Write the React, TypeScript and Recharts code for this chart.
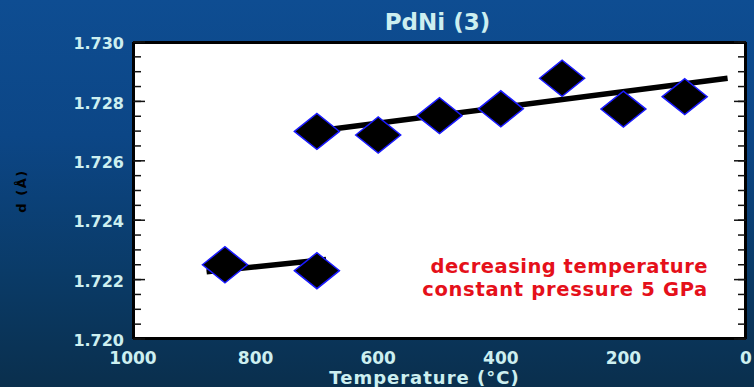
import React from 'react';
import {
  ComposedChart,
  XAxis,
  YAxis,
  Scatter,
  Line,
  CartesianGrid,
  ReferenceDot,
} from 'recharts';

// Measured lattice spacing d (Å) against temperature (°C), decreasing temperature at 5 GPa
const highTempC = [850, 700];
const highTempD = [1.7225, 1.7223];
const lowTempC = [700, 600, 500, 400, 300, 200, 100];
const lowTempD = [1.72699, 1.72687, 1.72752, 1.72775, 1.72878, 1.72774, 1.72816];

// Linear fits through each branch (end points)
const highFitC = [880, 685];
const highFitD = [1.72226, 1.72268];
const lowFitC = [700, 30];
const lowFitD = [1.727, 1.72878];

// Axis ticks
const xMajorTicks = [1000, 800, 600, 400, 200, 0];
const xMinorTicks = [
  1000, 950, 900, 850, 800, 750, 700, 650, 600, 550, 500, 450, 400, 350, 300, 250, 200, 150, 100,
  50, 0,
];
const yMajorTicks = [1.72, 1.722, 1.724, 1.726, 1.728, 1.73];
const yMinorTicks = [
  1.72, 1.7205, 1.721, 1.7215, 1.722, 1.7225, 1.723, 1.7235, 1.724, 1.7245, 1.725, 1.7255, 1.726,
  1.7265, 1.727, 1.7275, 1.728, 1.7285, 1.729, 1.7295, 1.73,
];

const toPoints = (t: number[], d: number[]) => t.map((v, i) => ({ t: v, d: d[i] }));
const highTempData = toPoints(highTempC, highTempD);
const lowTempData = toPoints(lowTempC, lowTempD);
const highFitData = toPoints(highFitC, highFitD);
const lowFitData = toPoints(lowFitC, lowFitD);

const FONT = '"DejaVu Sans", Verdana, sans-serif';
const LABEL_COLOR = '#cdeff0';
const X_DOMAIN: [number, number] = [0, 1000];
const Y_DOMAIN: [number, number] = [1.72, 1.73];

const Diamond = (props: any) => {
  const { cx, cy } = props;
  if (cx == null || cy == null) return null;
  const hw = 22.5;
  const hh = 18;
  return (
    <polygon
      points={`${cx - hw},${cy} ${cx},${cy - hh} ${cx + hw},${cy} ${cx},${cy + hh}`}
      fill="#000"
      stroke="#1a1aff"
      strokeWidth={1.5}
    />
  );
};

// Frame ticks carry no text of their own
const NoLabel = () => <g />;

const frameLine = { stroke: '#000', strokeWidth: 2 };
const tickLineStyle = { stroke: '#111', strokeWidth: 1.5 };

const xFrameAxis = (id: string, orientation: 'top' | 'bottom', ticks: number[], size: number) => (
  <XAxis
    key={id}
    xAxisId={id}
    orientation={orientation}
    mirror
    type="number"
    domain={X_DOMAIN}
    reversed
    allowDataOverflow
    ticks={ticks}
    interval={0}
    tick={NoLabel}
    tickSize={size}
    height={1}
    axisLine={frameLine}
    tickLine={tickLineStyle}
  />
);

const yFrameAxis = (id: string, orientation: 'left' | 'right', ticks: number[], size: number) => (
  <YAxis
    key={id}
    yAxisId={id}
    orientation={orientation}
    mirror
    type="number"
    domain={Y_DOMAIN}
    allowDataOverflow
    ticks={ticks}
    interval={0}
    tick={NoLabel}
    tickSize={size}
    width={1}
    axisLine={frameLine}
    tickLine={tickLineStyle}
  />
);

const AnnotationLabel = (props: any) => {
  const { viewBox } = props;
  if (!viewBox) return null;
  const x = viewBox.x + (viewBox.width || 0) / 2;
  const y = viewBox.y + (viewBox.height || 0) / 2;
  return (
    <g fontFamily={FONT} fontWeight="bold" fontSize={19.5} fill="#e5101a" textAnchor="end">
      <text x={x} y={y} letterSpacing={0.5}>
        decreasing temperature
      </text>
      <text x={x} y={y + 23} letterSpacing={0.7}>
        constant pressure 5 GPa
      </text>
    </g>
  );
};

const XTitle = (props: any) => {
  const { viewBox } = props;
  if (!viewBox) return null;
  return (
    <text
      x={viewBox.x + viewBox.width / 2 - 15}
      y={viewBox.y + 45}
      textAnchor="middle"
      fontFamily={FONT}
      fontWeight="bold"
      fontSize={18}
      letterSpacing={1}
      fill={LABEL_COLOR}
    >
      Temperature (°C)
    </text>
  );
};

const YTitle = (props: any) => {
  const { viewBox } = props;
  if (!viewBox) return null;
  const x = viewBox.x + 21;
  const y = 191;
  return (
    <text
      x={x}
      y={y}
      transform={`rotate(-90, ${x}, ${y})`}
      textAnchor="middle"
      dominantBaseline="central"
      fontFamily={FONT}
      fontWeight="bold"
      fontSize={13}
      letterSpacing={1.5}
      fill="#000"
    >
      d (Å)
    </text>
  );
};

export default function App() {
  return (
    <div
      style={{
        position: 'absolute',
        left: 0,
        top: 0,
        width: 754,
        height: 387,
        background: 'linear-gradient(180deg, #0e4d92 0%, #0c4686 35%, #0a3b68 70%, #0a2f4d 100%)',
        overflow: 'hidden',
      }}
    >
      <ComposedChart
        width={754}
        height={387}
        margin={{ top: 42, right: 8, bottom: 0, left: 0 }}
      >
        <CartesianGrid
          xAxisId="t"
          yAxisId="d"
          horizontal={false}
          vertical={false}
          fill="#ffffff"
          fillOpacity={1}
        />
        {xFrameAxis('bMinor', 'bottom', xMinorTicks, 6)}
        {xFrameAxis('bMajor', 'bottom', xMajorTicks, 10)}
        {xFrameAxis('tMinor', 'top', xMinorTicks, 6)}
        {xFrameAxis('tMajor', 'top', xMajorTicks, 10)}
        <XAxis
          xAxisId="t"
          orientation="bottom"
          type="number"
          dataKey="t"
          domain={X_DOMAIN}
          reversed
          allowDataOverflow
          ticks={xMajorTicks}
          interval={0}
          height={48}
          tickSize={0}
          tickMargin={13}
          axisLine={false}
          tickLine={false}
          tick={{ fill: LABEL_COLOR, fontFamily: FONT, fontWeight: 'bold', fontSize: 17 }}
          label={<XTitle />}
        />
        {yFrameAxis('lMinor', 'left', yMinorTicks, 7)}
        {yFrameAxis('lMajor', 'left', yMajorTicks, 12)}
        {yFrameAxis('rMinor', 'right', yMinorTicks, 7)}
        {yFrameAxis('rMajor', 'right', yMajorTicks, 12)}
        <YAxis
          yAxisId="d"
          orientation="left"
          type="number"
          dataKey="d"
          domain={Y_DOMAIN}
          allowDataOverflow
          ticks={yMajorTicks}
          interval={0}
          width={133}
          tickSize={0}
          tickMargin={9}
          axisLine={false}
          tickLine={false}
          tickFormatter={(v: number) => v.toFixed(3)}
          tick={{ fill: LABEL_COLOR, fontFamily: FONT, fontWeight: 'bold', fontSize: 16, dy: 1.5 }}
          label={<YTitle />}
        />
        <Scatter
          xAxisId="t"
          yAxisId="d"
          data={highTempData}
          dataKey="d"
          shape={<Diamond />}
          isAnimationActive={false}
        />
        <Scatter
          xAxisId="t"
          yAxisId="d"
          data={lowTempData}
          dataKey="d"
          shape={<Diamond />}
          isAnimationActive={false}
        />
        <Line
          xAxisId="t"
          yAxisId="d"
          data={highFitData}
          dataKey="d"
          type="linear"
          stroke="#000"
          strokeWidth={5.5}
          dot={false}
          activeDot={false}
          isAnimationActive={false}
        />
        <Line
          xAxisId="t"
          yAxisId="d"
          data={lowFitData}
          dataKey="d"
          type="linear"
          stroke="#000"
          strokeWidth={5.5}
          dot={false}
          activeDot={false}
          isAnimationActive={false}
        />
        <ReferenceDot
          xAxisId="t"
          yAxisId="d"
          x={62}
          y={1.72222}
          r={1}
          fill="none"
          stroke="none"
          label={<AnnotationLabel />}
        />
        <text
          x={437.5}
          y={30}
          textAnchor="middle"
          fontFamily={FONT}
          fontWeight="bold"
          fontSize={23}
          fill={LABEL_COLOR}
        >
          PdNi (3)
        </text>
      </ComposedChart>
    </div>
  );
}
